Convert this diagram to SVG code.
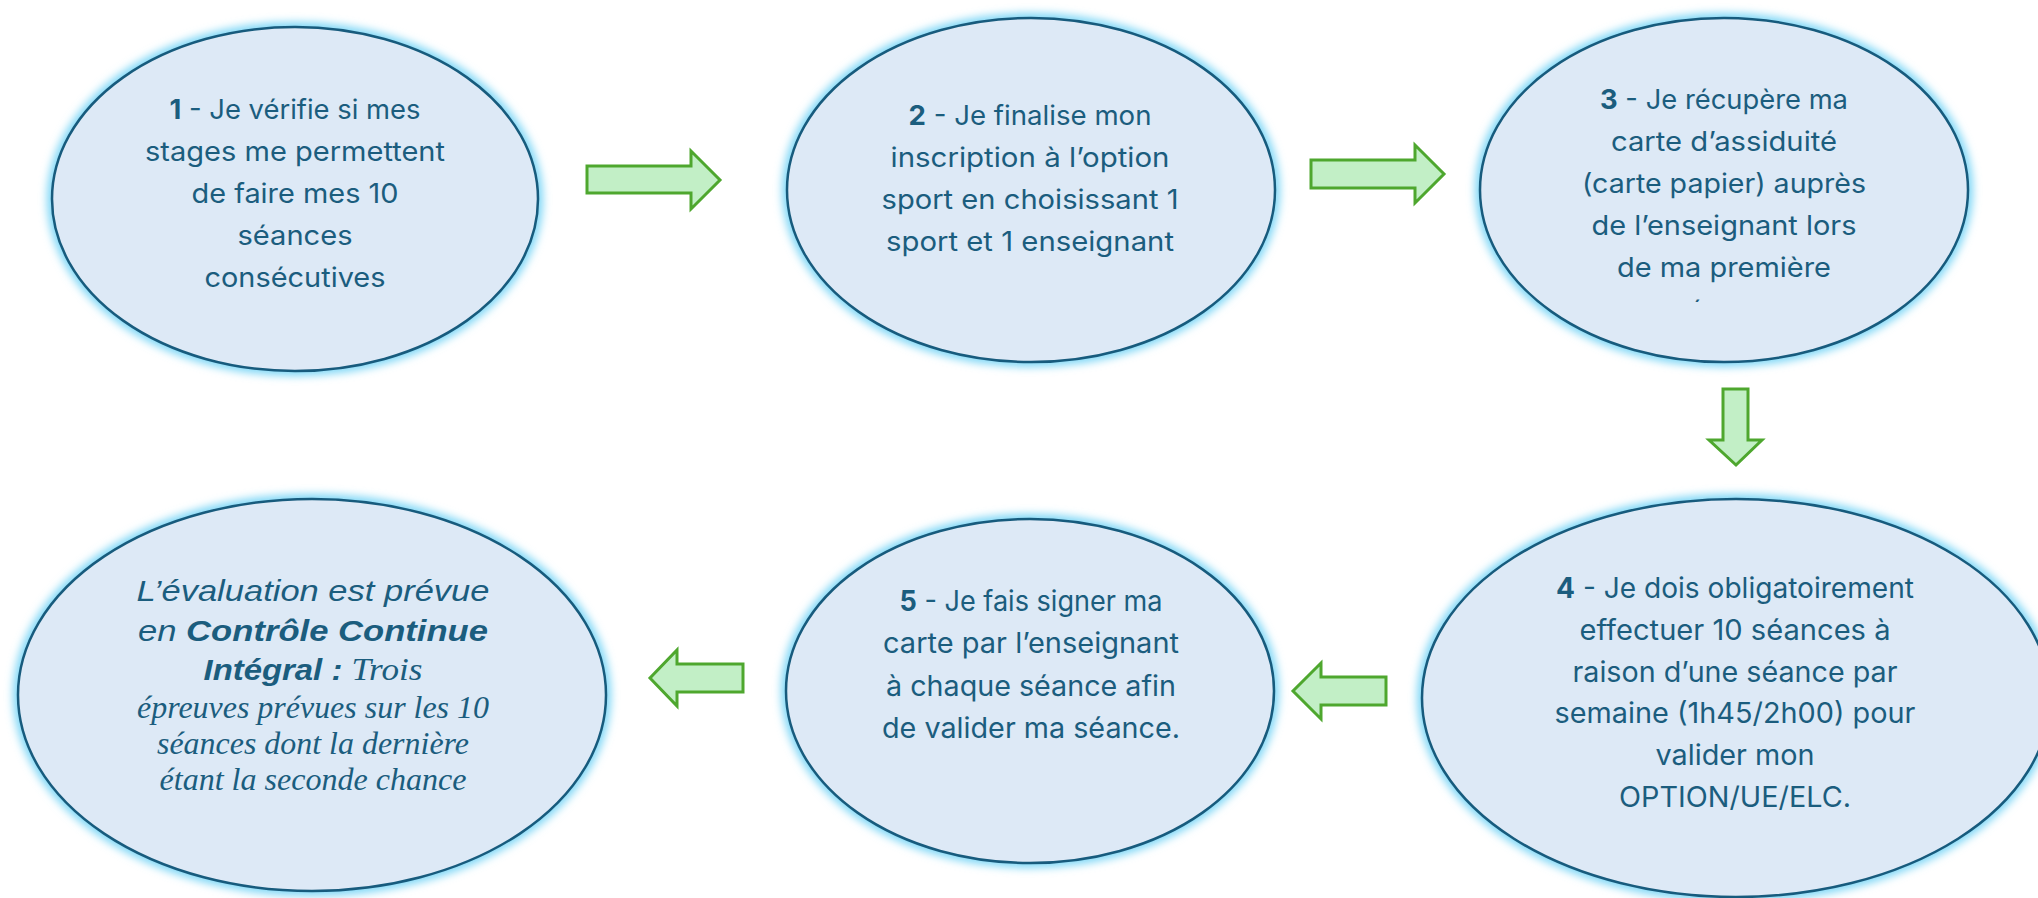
<svg xmlns="http://www.w3.org/2000/svg" width="2038" height="898" viewBox="0 0 2038 898">
<style>
.glow{fill:#7fd7f6;filter:url(#blur)}
.node{fill:#dde9f6;stroke:#175b7d;stroke-width:2.5}
.t{font-family:Inter,"Open Sans","Liberation Sans",sans-serif;font-size:27px;fill:#1b5d7e;text-anchor:middle}
.t4{font-family:Inter,"Open Sans","Liberation Sans",sans-serif;font-size:28px;fill:#1b5d7e;text-anchor:middle}
.b{font-weight:700}
.si{font-family:"Liberation Sans",Arial,sans-serif;font-style:italic;font-size:29px;fill:#1b5d7e;text-anchor:middle}
.sr{font-family:"Liberation Serif","Times New Roman",serif;font-style:italic;font-size:31px;fill:#1b5d7e;text-anchor:middle}
.arrow{fill:#c2efc6;stroke:#4ea72e;stroke-width:3;stroke-linejoin:miter}
</style>
<defs>
<filter id="blur" x="-10%" y="-10%" width="120%" height="120%"><feGaussianBlur stdDeviation="4"/></filter>
<clipPath id="clip3"><rect x="1480" y="20" width="490" height="282"/></clipPath>
</defs>
<rect width="2038" height="898" fill="#ffffff"/>

<g id="connectors">
<polygon class="arrow" points="587,166 691,166 691,151 720,180 691,209 691,193 587,193"/>
<polygon class="arrow" points="1311,160 1415,160 1415,145 1444,174 1415,203 1415,188 1311,188"/>
<polygon class="arrow" points="1723,389 1748,389 1748,440 1762,440 1736,465 1709,440 1723,440"/>
<polygon class="arrow" points="1386,677 1321,677 1321,663 1293,691 1321,719 1321,705 1386,705"/>
<polygon class="arrow" points="743,664 677,664 677,650 650,678 677,706 677,692 743,692"/>
</g>

<g id="node1">
<ellipse class="glow" cx="295" cy="199" rx="248" ry="177"/>
<ellipse class="node" cx="295" cy="199" rx="243" ry="172"/>
<text class="t" x="295" y="119" textLength="251" lengthAdjust="spacingAndGlyphs"><tspan class="b">1</tspan> - Je vérifie si mes</text>
<text class="t" x="295" y="161" textLength="300" lengthAdjust="spacingAndGlyphs">stages me permettent</text>
<text class="t" x="295" y="203" textLength="207" lengthAdjust="spacingAndGlyphs">de faire mes 10</text>
<text class="t" x="295" y="245" textLength="115" lengthAdjust="spacingAndGlyphs">séances</text>
<text class="t" x="295" y="287" textLength="181" lengthAdjust="spacingAndGlyphs">consécutives</text>
</g>

<g id="node2">
<ellipse class="glow" cx="1031" cy="190" rx="249" ry="177"/>
<ellipse class="node" cx="1031" cy="190" rx="244" ry="172"/>
<text class="t" x="1030" y="125" textLength="243" lengthAdjust="spacingAndGlyphs"><tspan class="b">2</tspan> - Je finalise mon</text>
<text class="t" x="1030" y="167" textLength="279" lengthAdjust="spacingAndGlyphs">inscription à l’option</text>
<text class="t" x="1030" y="209" textLength="297" lengthAdjust="spacingAndGlyphs">sport en choisissant 1</text>
<text class="t" x="1030" y="251" textLength="288" lengthAdjust="spacingAndGlyphs">sport et 1 enseignant</text>
</g>

<g id="node3">
<ellipse class="glow" cx="1724" cy="190" rx="249" ry="177"/>
<ellipse class="node" cx="1724" cy="190" rx="244" ry="172"/>
<text class="t" x="1724" y="109" textLength="248" lengthAdjust="spacingAndGlyphs"><tspan class="b">3</tspan> - Je récupère ma</text>
<text class="t" x="1724" y="151" textLength="226" lengthAdjust="spacingAndGlyphs">carte d’assiduité</text>
<text class="t" x="1724" y="193" textLength="284" lengthAdjust="spacingAndGlyphs">(carte papier) auprès</text>
<text class="t" x="1724" y="235" textLength="265" lengthAdjust="spacingAndGlyphs">de l’enseignant lors</text>
<text class="t" x="1724" y="277" textLength="214" lengthAdjust="spacingAndGlyphs">de ma première</text>
<text class="t" x="1724" y="320" clip-path="url(#clip3)">séance.</text>
</g>

<g id="node4">
<ellipse class="glow" cx="1736" cy="698" rx="319" ry="204"/>
<ellipse class="node" cx="1736" cy="698" rx="314" ry="199"/>
<text class="t4" x="1735" y="598" textLength="358" lengthAdjust="spacingAndGlyphs"><tspan class="b">4</tspan> - Je dois obligatoirement</text>
<text class="t4" x="1735" y="640" textLength="311" lengthAdjust="spacingAndGlyphs">effectuer 10 séances à</text>
<text class="t4" x="1735" y="682" textLength="325" lengthAdjust="spacingAndGlyphs">raison d’une séance par</text>
<text class="t4" x="1735" y="723" textLength="361" lengthAdjust="spacingAndGlyphs">semaine (1h45/2h00) pour</text>
<text class="t4" x="1735" y="765" textLength="159" lengthAdjust="spacingAndGlyphs">valider mon</text>
<text class="t4" x="1735" y="807" textLength="232" lengthAdjust="spacingAndGlyphs">OPTION/UE/ELC.</text>
</g>

<g id="node5">
<ellipse class="glow" cx="1030" cy="691" rx="249" ry="177"/>
<ellipse class="node" cx="1030" cy="691" rx="244" ry="172"/>
<text class="t4" x="1031" y="611" textLength="263" lengthAdjust="spacingAndGlyphs"><tspan class="b">5</tspan> - Je fais signer ma</text>
<text class="t4" x="1031" y="653" textLength="296" lengthAdjust="spacingAndGlyphs">carte par l’enseignant</text>
<text class="t4" x="1031" y="696" textLength="290" lengthAdjust="spacingAndGlyphs">à chaque séance afin</text>
<text class="t4" x="1031" y="738" textLength="298" lengthAdjust="spacingAndGlyphs">de valider ma séance.</text>
</g>

<g id="node6">
<ellipse class="glow" cx="312" cy="695" rx="299" ry="201"/>
<ellipse class="node" cx="312" cy="695" rx="294" ry="196"/>
<text class="si" x="313" y="601" textLength="353" lengthAdjust="spacingAndGlyphs">L’évaluation est prévue</text>
<text class="si" x="313" y="641" textLength="350" lengthAdjust="spacingAndGlyphs">en <tspan class="b">Contrôle Continue</tspan></text>
<text class="si" x="313" y="680" textLength="219" lengthAdjust="spacingAndGlyphs"><tspan class="b">Intégral :</tspan> <tspan font-family="Liberation Serif, Times New Roman, serif" font-weight="400" font-size="31">Trois</tspan></text>
<text class="sr" x="313" y="718" textLength="352" lengthAdjust="spacingAndGlyphs">épreuves prévues sur les 10</text>
<text class="sr" x="313" y="754" textLength="312" lengthAdjust="spacingAndGlyphs">séances dont la dernière</text>
<text class="sr" x="313" y="790" textLength="307" lengthAdjust="spacingAndGlyphs">étant la seconde chance</text>
</g>
</svg>
